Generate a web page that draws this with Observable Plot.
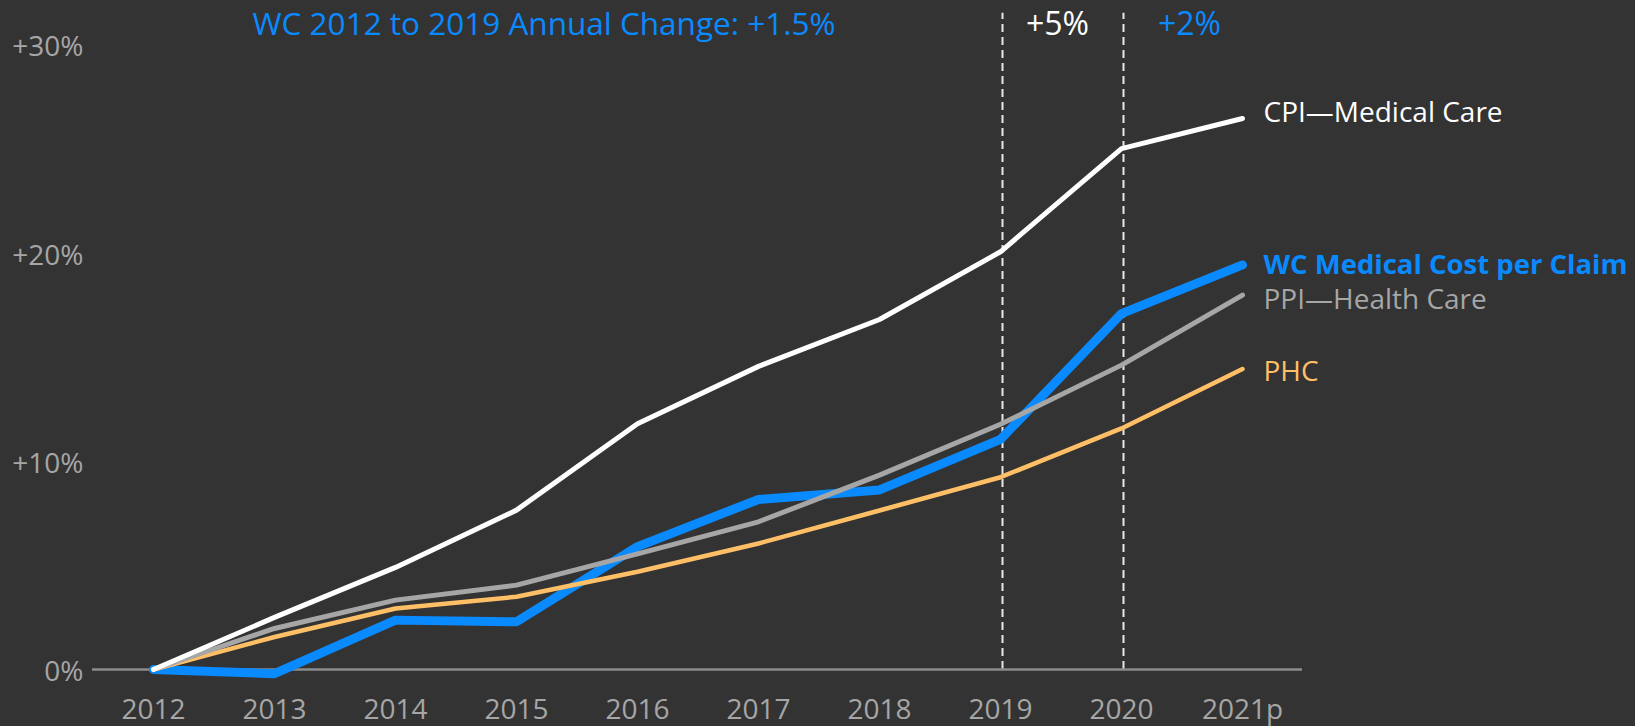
<!DOCTYPE html>
<html>
<head>
<meta charset="utf-8">
<script src="https://cdn.jsdelivr.net/npm/d3@7"></script>
<script src="https://cdn.jsdelivr.net/npm/@observablehq/plot@0.6"></script>
<style>
  html, body { margin: 0; padding: 0; background: #333333; }
  #chart svg { display: block; }
</style>
</head>
<body>
<div id="chart"></div>
<script>
const years = ["2012", "2013", "2014", "2015", "2016", "2017", "2018", "2019", "2020", "2021p"];
const cpiMedical = [0, 2.5, 4.9, 7.65, 11.8, 14.55, 16.8, 20.05, 25.0, 26.45];
const wcMedical = [0, -0.2, 2.37, 2.29, 5.9, 8.16, 8.62, 11.05, 17.08, 19.42];
const ppiHealth = [0, 1.97, 3.33, 4.05, 5.55, 7.09, 9.33, 11.77, 14.61, 17.97];
const phc = [0, 1.56, 2.93, 3.49, 4.69, 6.05, 7.63, 9.23, 11.57, 14.42];
const seriesNames = ["CPI—Medical Care", "WC Medical Cost per Claim", "PPI—Health Care", "PHC"];
const yTicks = [0, 10, 20, 30];
const markerYears = ["2019", "2020"];
const titleText = "WC 2012 to 2019 Annual Change: +1.5%";
const periodLabels = ["+5%", "+2%"];

const toRows = (vals) => years.map((y, i) => ({year: y, value: vals[i]}));
const cpiRows = toRows(cpiMedical);
const wcRows = toRows(wcMedical);
const ppiRows = toRows(ppiHealth);
const phcRows = toRows(phc);
const last = (rows) => [rows[rows.length - 1]];

const BLUE = "#0a8aff", WHITE = "#ffffff", GRAY = "#a6a6a6", ORANGE = "#ffbf66";
const FONT = "'Open Sans', sans-serif";

const chart = Plot.plot({
  width: 1635,
  height: 726,
  marginLeft: 92,
  marginRight: 333,
  marginTop: 44,
  marginBottom: 57,
  style: {background: "#333333", fontFamily: FONT, overflow: "visible"},
  x: {type: "point", domain: years, padding: 0.5},
  y: {domain: [0, 30]},
  marks: [
    Plot.ruleX(markerYears, {x: d => d, dx: 2, y1: 0, y2: 31.5, stroke: "#e8e8e8", strokeWidth: 2, strokeDasharray: "8,5"}),
    Plot.ruleY([0], {stroke: "#8c8c8c", strokeWidth: 2.5}),
    Plot.axisY({ticks: yTicks, tickSize: 0, tickPadding: 9, tickFormat: d => d === 0 ? "0%" : "+" + d + "%", fontSize: 28, fill: "#a6a6a6", dy: 3, label: null}),
    Plot.axisX({tickSize: 0, tickPadding: 30, fontSize: 28, fill: "#a6a6a6", label: null}),
    Plot.line(wcRows, {x: "year", y: "value", stroke: BLUE, strokeWidth: 9, strokeLinecap: "round", strokeLinejoin: "miter"}),
    Plot.line(phcRows, {x: "year", y: "value", stroke: ORANGE, strokeWidth: 4.5, strokeLinecap: "round"}),
    Plot.line(ppiRows, {x: "year", y: "value", stroke: GRAY, strokeWidth: 5, strokeLinecap: "round"}),
    Plot.line(cpiRows, {x: "year", y: "value", stroke: WHITE, strokeWidth: 5, strokeLinecap: "round"}),
    Plot.text(last(cpiRows), {x: "year", y: "value", text: () => seriesNames[0], dx: 21, dy: -5, textAnchor: "start", fill: WHITE, fontSize: 28}),
    Plot.text(last(wcRows), {x: "year", y: "value", text: () => seriesNames[1], dx: 21, textAnchor: "start", fill: BLUE, fontSize: 27.5, fontWeight: "bold"}),
    Plot.text(last(ppiRows), {x: "year", y: "value", text: () => seriesNames[2], dx: 21, dy: 5, textAnchor: "start", fill: GRAY, fontSize: 28}),
    Plot.text(last(phcRows), {x: "year", y: "value", text: () => seriesNames[3], dx: 21, dy: 3, textAnchor: "start", fill: ORANGE, fontSize: 28}),
    Plot.text([titleText], {frameAnchor: "top-left", text: d => d, dx: 160, dy: -32, textAnchor: "start", fill: BLUE, fontSize: 31.5}),
    Plot.text([periodLabels[0]], {x: () => markerYears[0], frameAnchor: "top", text: d => d, dx: 57, dy: -32, fill: WHITE, fontSize: 32}),
    Plot.text([periodLabels[1]], {x: () => markerYears[1], frameAnchor: "top", text: d => d, dx: 68, dy: -32, fill: BLUE, fontSize: 32})
  ]
});
document.getElementById("chart").appendChild(chart);
</script>
</body>
</html>
